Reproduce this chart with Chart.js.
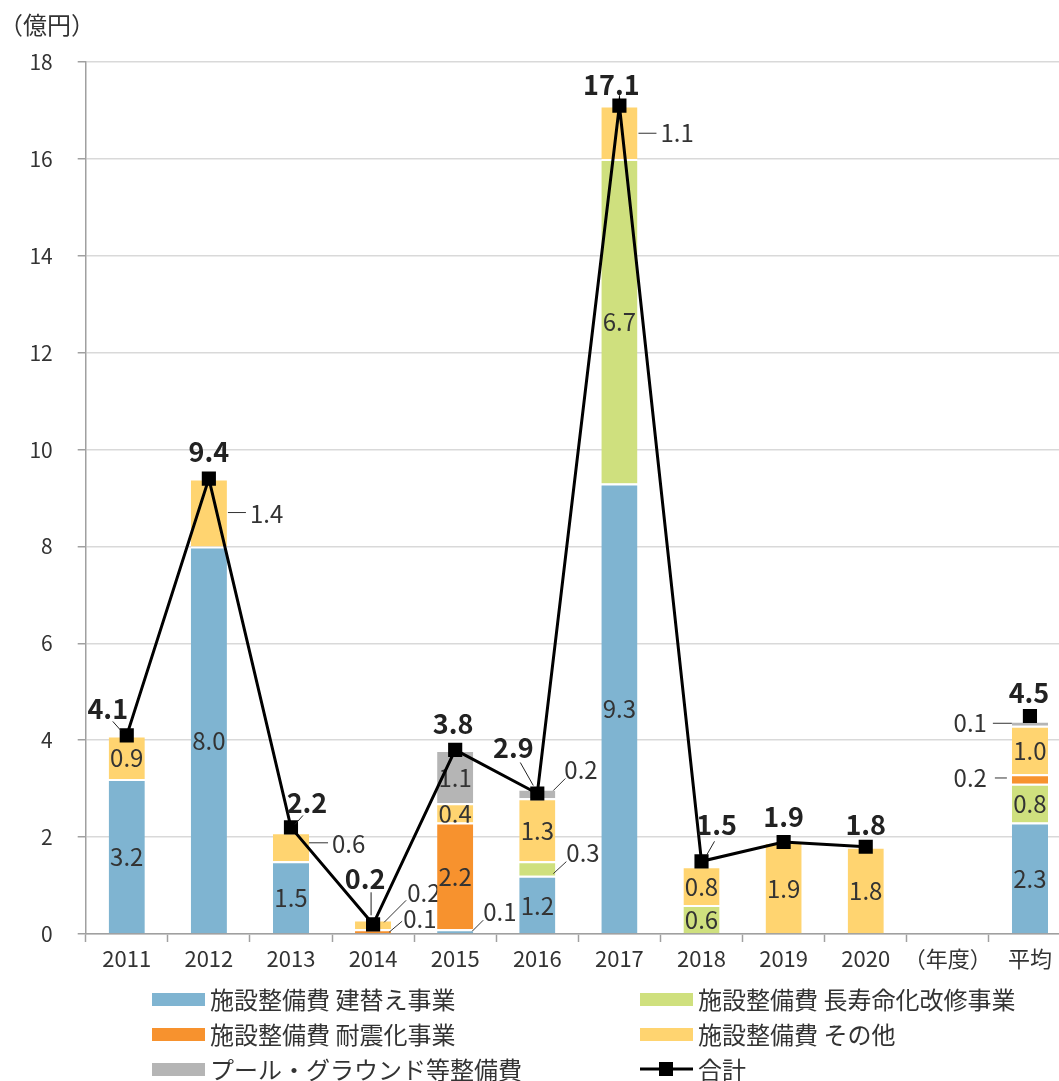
<!DOCTYPE html>
<html lang="ja">
<head>
<meta charset="utf-8">
<script src="https://cdn.jsdelivr.net/npm/chart.js@4.4.1/dist/chart.umd.min.js"></script>
<style>
  html, body { margin: 0; padding: 0; background: #fff; overflow: hidden; }
  #wrap { width: 1059px; height: 1081px; }
</style>
</head>
<body>
<div id="wrap"><canvas id="chart" width="1059" height="1081"></canvas></div>
<script>
// 年度別の施設整備費（億円）
const years = ['2011', '2012', '2013', '2014', '2015', '2016', '2017', '2018', '2019', '2020', '（年度）', '平均'];
const rebuild  = [3.2, 8.0, 1.5, null, 0.1, 1.2, 9.3, null, null, null, null, 2.3];
const longLife = [null, null, null, null, null, 0.3, 6.7, 0.6, null, null, null, 0.8];
const quake    = [null, null, null, 0.1, 2.2, null, null, null, null, null, null, 0.2];
const other    = [0.9, 1.4, 0.6, 0.2, 0.4, 1.3, 1.1, 0.8, 1.9, 1.8, null, 1.0];
const pool     = [null, null, null, null, 1.1, 0.2, null, null, null, null, null, 0.1];
const totals   = [4.1, 9.4, 2.2, 0.2, 3.8, 2.9, 17.1, 1.5, 1.9, 1.8, null, 4.5];
const yMax = 18;
const yStep = 2;

const FONT = '"Noto Sans CJK JP", "Noto Sans", sans-serif';
const TEXT = '#333';
const PLOT_RIGHT = 1071; // plot area continues past the canvas edge

// small segments get their value outside with a leader line
// key: dataset-index, offsets from the bar edge / segment middle
const callouts = {
  '3-1':  { side: 'r', line: [1, 0, 19, 0],     text: [23, 1],   align: 'left' },
  '3-2':  { side: 'r', line: [0, -4, 19, -4],   text: [23, -3],  align: 'left' },
  '3-6':  { side: 'r', line: [1, 1, 19, 1],     text: [23, 1],   align: 'left' },
  '2-3':  { side: 'r', line: [-2, 1, 11, -10],  text: [12, -12], align: 'left' },
  '3-3':  { side: 'r', line: [-7, -2, 15, -24], text: [16, -31], align: 'left' },
  '0-4':  { side: 'r', line: [-1, 0, 10, -11],  text: [10, -19], align: 'left' },
  '4-5':  { side: 'r', line: [-2, -3, 10, -15], text: [9, -24],  align: 'left' },
  '1-5':  { side: 'r', line: [-2, 5, 11, -7],   text: [11, -16], align: 'left' },
  '4-11': { side: 'l', line: [-19, 0, 0, 0],    text: [-25, 0],  align: 'right' },
  '2-11': { side: 'l', line: [-17, -1, -5, -1], text: [-25, -1], align: 'right' }
};

// total labels: offset from the point, optional leader [x0,y0,x1,y1]
const totalPos = [
  { d: [-19, -27], lead: [-14, -14, -6, -5] },
  { d: [0, -27] },
  { d: [16, -25], lead: [12, -12, 4, -3] },
  { d: [-8, -46], lead: [-2, -32, -2, -9] },
  { d: [-2, -26] },
  { d: [-24, -46], lead: [-17, -31, -4, -8] },
  { d: [-8, -21] },
  { d: [15, -37], lead: [13, -20, 5, -6] },
  { d: [0, -25] },
  { d: [0, -22] },
  null,
  { d: [-1, -23] }
];

const stretchX = {
  id: 'stretchX',
  afterLayout(chart) {
    const x = chart.scales.x;
    const extra = PLOT_RIGHT - x.right;
    if (extra <= 0) return;
    x.right += extra;
    x.width += extra;
    x.configure();
    x._labelItems = null;
    x._gridLineItems = null;
    chart.scales.y._gridLineItems = null;
    chart.chartArea.right += extra;
    chart.chartArea.width += extra;
  }
};

const segLabels = {
  id: 'segLabels',
  afterDatasetDraw(chart, args) {
    const ds = chart.data.datasets[args.index];
    if (ds.type === 'line') return;
    const ctx = chart.ctx;
    ctx.save();
    ctx.font = '24px ' + FONT;
    ctx.fillStyle = TEXT;
    ctx.strokeStyle = TEXT;
    ctx.lineWidth = 1;
    ctx.textBaseline = 'middle';
    args.meta.data.forEach((bar, i) => {
      const v = ds.data[i];
      if (v == null) return;
      const p = bar.getProps(['x', 'y', 'base', 'width'], true);
      const mid = (p.y + p.base) / 2;
      const txt = v.toFixed(1);
      const c = callouts[args.index + '-' + i];
      if (!c) {
        ctx.textAlign = 'center';
        ctx.fillText(txt, p.x, mid + 1);
        return;
      }
      const ax = c.side === 'r' ? p.x + p.width / 2 : p.x - p.width / 2;
      ctx.beginPath();
      ctx.moveTo(ax + c.line[0], mid + c.line[1]);
      ctx.lineTo(ax + c.line[2], mid + c.line[3]);
      ctx.stroke();
      ctx.textAlign = c.align;
      ctx.fillText(txt, ax + c.text[0], mid + c.text[1]);
    });
    ctx.restore();
  },
  afterDatasetsDraw(chart) {
    const idx = chart.data.datasets.findIndex(d => d.type === 'line');
    const meta = chart.getDatasetMeta(idx);
    const ctx = chart.ctx;
    ctx.save();
    ctx.font = 'bold 27px ' + FONT;
    ctx.fillStyle = '#222';
    ctx.strokeStyle = '#222';
    ctx.lineWidth = 1;
    ctx.textAlign = 'center';
    ctx.textBaseline = 'middle';
    meta.data.forEach((pt, i) => {
      const v = totals[i];
      const cfg = totalPos[i];
      if (v == null || !cfg) return;
      if (cfg.lead) {
        ctx.beginPath();
        ctx.moveTo(pt.x + cfg.lead[0], pt.y + cfg.lead[1]);
        ctx.lineTo(pt.x + cfg.lead[2], pt.y + cfg.lead[3]);
        ctx.stroke();
      }
      ctx.fillText(v.toFixed(1), pt.x + cfg.d[0], pt.y + cfg.d[1]);
    });
    ctx.restore();
  },
  afterDraw(chart) {
    const ctx = chart.ctx;
    ctx.save();
    // unit label
    ctx.font = '24px ' + FONT;
    ctx.fillStyle = TEXT;
    ctx.textAlign = 'left';
    ctx.textBaseline = 'middle';
    ctx.fillText('（億円）', -1, 25);

    // two-column legend
    const cols = [152, 640];
    const rows = [999, 1034, 1069];
    ctx.font = '24px ' + FONT;
    chart.data.datasets.forEach((ds, k) => {
      const x = cols[k % 2];
      const y = rows[Math.floor(k / 2)];
      if (ds.type === 'line') {
        ctx.strokeStyle = '#000';
        ctx.lineWidth = 3;
        ctx.beginPath();
        ctx.moveTo(x, y);
        ctx.lineTo(x + 53, y);
        ctx.stroke();
        ctx.fillStyle = '#000';
        ctx.fillRect(x + 19, y - 7, 14, 14);
      } else {
        ctx.fillStyle = ds.backgroundColor;
        ctx.fillRect(x, y - 6, 53, 13);
      }
      ctx.fillStyle = TEXT;
      ctx.fillText(ds.label, x + 58, y + 1);
    });
    ctx.restore();
  }
};

function barSet(label, data, color) {
  return {
    type: 'bar',
    label: label,
    data: data,
    backgroundColor: color,
    borderColor: '#fff',
    borderWidth: { top: 2, right: 0, bottom: 0, left: 0 },
    borderSkipped: false,
    stack: 'cost',
    order: 1,
    barPercentage: 0.44,
    categoryPercentage: 1
  };
}

new Chart(document.getElementById('chart'), {
  data: {
    labels: years,
    datasets: [
      barSet('施設整備費 建替え事業', rebuild, '#7fb4d1'),
      barSet('施設整備費 長寿命化改修事業', longLife, '#cfe07e'),
      barSet('施設整備費 耐震化事業', quake, '#f7922e'),
      barSet('施設整備費 その他', other, '#ffd470'),
      barSet('プール・グラウンド等整備費', pool, '#b5b5b5'),
      {
        type: 'line',
        label: '合計',
        data: totals,
        borderColor: '#000',
        backgroundColor: '#000',
        borderWidth: 3,
        pointStyle: 'rect',
        pointRadius: 10,
        pointBorderWidth: 0,
        spanGaps: false,
        stack: 'sum',
        order: 0
      }
    ]
  },
  options: {
    responsive: false,
    devicePixelRatio: 1,
    animation: false,
    events: [],
    layout: { padding: { top: 62, left: 0, right: 0, bottom: 107 } },
    plugins: {
      legend: { display: false },
      tooltip: { enabled: false }
    },
    scales: {
      x: {
        stacked: true,
        offset: true,
        grid: {
          offset: true,
          drawOnChartArea: false,
          drawTicks: true,
          tickLength: 8,
          tickColor: '#a0a0a0',
          tickWidth: 1.5
        },
        border: { color: '#a0a0a0', width: 1.5 },
        ticks: {
          autoSkip: false,
          maxRotation: 0,
          color: TEXT,
          padding: 3,
          font: { family: FONT, size: 22 }
        },
        afterFit(scale) { scale.height = 40; }
      },
      y: {
        stacked: true,
        min: 0,
        max: yMax,
        grid: {
          color: '#d9d9d9',
          lineWidth: 1.5,
          tickLength: 8,
          tickColor: '#a0a0a0',
          tickWidth: 1.5
        },
        border: { color: '#a0a0a0', width: 1.5 },
        ticks: {
          stepSize: yStep,
          color: TEXT,
          padding: 25,
          font: { family: FONT, size: 21 }
        },
        afterFit(scale) { scale.width = 85.7; }
      }
    }
  },
  plugins: [stretchX, segLabels]
});
</script>
</body>
</html>
